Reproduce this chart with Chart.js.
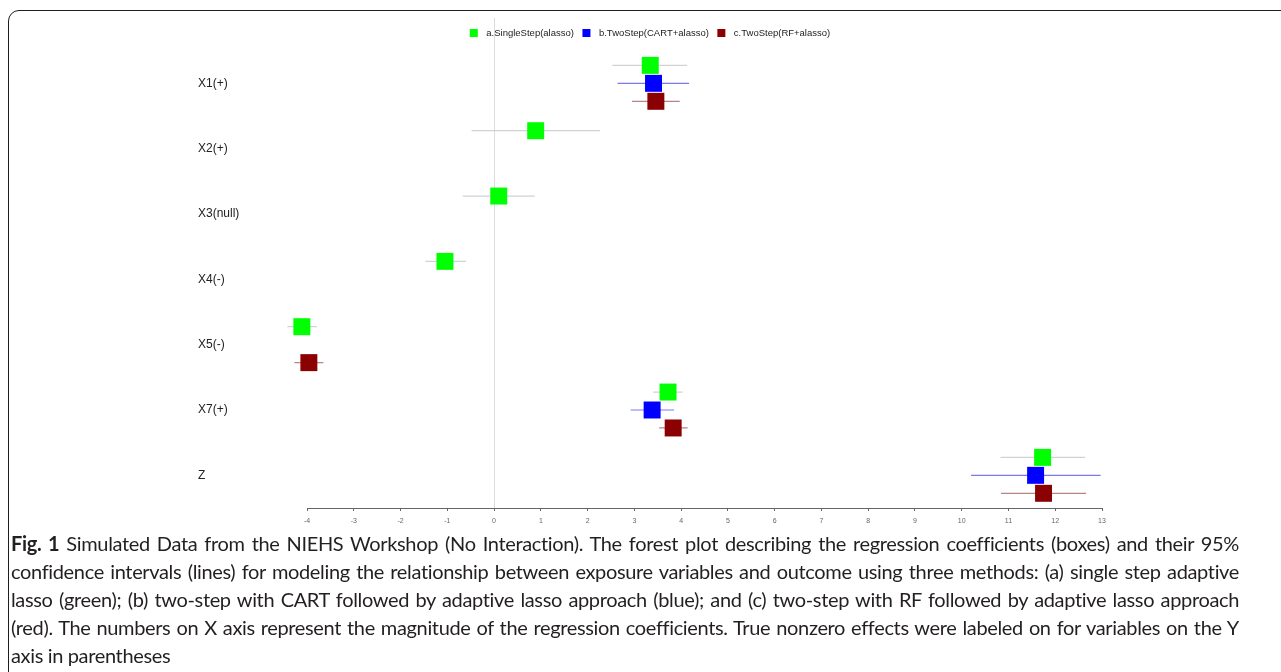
<!DOCTYPE html>
<html>
<head>
<meta charset="utf-8">
<script src="https://cdn.jsdelivr.net/npm/chart.js@4/dist/chart.umd.min.js"></script>
<style>
  html, body { margin: 0; padding: 0; background: #fff; overflow: hidden; }
  body { width: 1281px; height: 672px; position: relative; }
  #frame {
    position: absolute; left: 8px; top: 10px; width: 1320px; height: 720px;
    border: 1.6px solid #1e1e1e; border-radius: 11px; box-sizing: border-box;
  }
  #wrap { position: absolute; left: 0; top: 0; width: 1281px; height: 530px; }
  #caption {
    position: absolute; left: 11px; top: 529px; width: 1228px;
    font-family: Lato, "Open Sans", sans-serif; font-size: 20px; letter-spacing: -0.35px;
    line-height: 28px; color: #231f20;
  }
  #caption div { white-space: nowrap; text-align: justify; text-align-last: justify; }
  #caption div.last { text-align-last: left; }
  #caption b { font-weight: 700; }
</style>
</head>
<body>
<div id="frame"></div>
<div id="wrap"><canvas id="chart" width="1281" height="530"></canvas></div>
<div id="caption">
  <div><b>Fig. 1</b> Simulated Data from the NIEHS Workshop (No Interaction). The forest plot describing the regression coefficients (boxes) and their 95%</div>
  <div>confidence intervals (lines) for modeling the relationship between exposure variables and outcome using three methods: (a) single step adaptive</div>
  <div>lasso (green); (b) two-step with CART followed by adaptive lasso approach (blue); and (c) two-step with RF followed by adaptive lasso approach</div>
  <div>(red). The numbers on X axis represent the magnitude of the regression coefficients. True nonzero effects were labeled on for variables on the Y</div>
  <div class="last">axis in parentheses</div>
</div>
<script>
// Variables (rows of the forest plot, top to bottom)
const rows = ['X1(+)', 'X2(+)', 'X3(null)', 'X4(-)', 'X5(-)', 'X7(+)', 'Z'];

// Method labels
const methods = ['a.SingleStep(alasso)', 'b.TwoStep(CART+alasso)', 'c.TwoStep(RF+alasso)'];

// a. single step adaptive lasso: estimate and 95% CI
const singleEst = [3.34, 0.89, 0.10, -1.05, -4.11, 3.72, 11.73];
const singleLo  = [2.53, -0.48, -0.67, -1.47, -4.42, 3.40, 10.83];
const singleHi  = [4.13, 2.27, 0.87, -0.60, -3.79, 4.03, 12.64];

// b. two-step CART + adaptive lasso (null = variable not selected)
const cartEst = [3.41, null, null, null, null, 3.38, 11.58];
const cartLo  = [2.64, null, null, null, null, 2.92, 10.20];
const cartHi  = [4.17, null, null, null, null, 3.85, 12.97];

// c. two-step RF + adaptive lasso
const rfEst = [3.46, null, null, null, -3.96, 3.83, 11.75];
const rfLo  = [2.95, null, null, null, -4.27, 3.53, 10.84];
const rfHi  = [3.97, null, null, null, -3.65, 4.14, 12.66];

// x-axis ticks (coefficient magnitude)
const xTicks = [-4, -3, -2, -1, 0, 1, 2, 3, 4, 5, 6, 7, 8, 9, 10, 11, 12, 13];

const boxColors = ['#00ff00', '#0000ff', '#8b0000'];
const ciColors  = ['#d2d2d2', '#7a7aee', '#b98383'];
const rowOffset = [-0.275, 0, 0.275];

const series = [
  { est: singleEst, lo: singleLo, hi: singleHi },
  { est: cartEst,   lo: cartLo,   hi: cartHi },
  { est: rfEst,     lo: rfLo,     hi: rfHi }
];

function pointData(s, off) {
  const out = [];
  s.est.forEach((v, i) => { if (v !== null) out.push({ x: v, y: i + off }); });
  return out;
}
function ciData(s, off) {
  const out = [];
  s.lo.forEach((v, i) => {
    if (v !== null) {
      out.push({ x: v, y: i + off });
      out.push({ x: s.hi[i], y: i + off });
      out.push({ x: s.hi[i], y: NaN });
    }
  });
  return out;
}

const datasets = [];
series.forEach((s, k) => {
  datasets.push({
    type: 'line', label: methods[k] + ' CI', data: ciData(s, rowOffset[k]),
    borderColor: ciColors[k], borderWidth: 1.2, pointRadius: 0, spanGaps: false,
    fill: false, order: 2, clip: false
  });
  datasets.push({
    type: 'scatter', label: methods[k], data: pointData(s, rowOffset[k]),
    pointStyle: 'rect', pointRadius: 12, pointHoverRadius: 12,
    backgroundColor: boxColors[k], borderColor: boxColors[k], borderWidth: 0,
    order: 1, clip: false
  });
});

// Legend row drawn across the top of the plot
const topLegend = {
  id: 'topLegend',
  afterDraw(chart) {
    const ctx = chart.ctx;
    ctx.save();
    ctx.font = '9.5px "Liberation Sans", Arial, sans-serif';
    ctx.textBaseline = 'middle';
    ctx.textAlign = 'left';
    const box = 8, gapText = 8.5, gapItem = 8.5;
    const widths = methods.map(m => box + gapText + ctx.measureText(m).width);
    const total = widths.reduce((a, b) => a + b, 0) + gapItem * (methods.length - 1);
    let x = 650 - total / 2;
    const y = 33;
    methods.forEach((m, k) => {
      ctx.fillStyle = boxColors[k];
      ctx.fillRect(x, y - box / 2, box, box);
      ctx.fillStyle = '#222';
      ctx.fillText(m, x + box + gapText, y + 0.5);
      x += widths[k] + gapItem;
    });
    ctx.restore();
  }
};

new Chart(document.getElementById('chart'), {
  type: 'scatter',
  data: { datasets },
  plugins: [topLegend],
  options: {
    responsive: false,
    animation: false,
    events: [],
    layout: { padding: { top: 18, left: 198, right: 179, bottom: 0 } },
    plugins: { legend: { display: false }, tooltip: { enabled: false } },
    scales: {
      x: {
        type: 'linear', min: xTicks[0], max: xTicks[xTicks.length - 1],
        afterBuildTicks: scale => { scale.ticks = xTicks.map(v => ({ value: v })); },
        afterFit: scale => { scale.height = 22; },
        ticks: {
          font: { family: '"Liberation Sans", Arial, sans-serif', size: 7 },
          color: '#666', padding: 6, maxRotation: 0, autoSkip: false,
          callback: v => String(v)
        },
        grid: {
          drawOnChartArea: true, drawTicks: true, tickLength: 3,
          color: c => (c.tick && c.tick.value === 0) ? '#dcdcdc' : 'rgba(0,0,0,0)',
          tickColor: '#666', lineWidth: 1
        },
        border: { display: true, color: '#666', width: 1 }
      },
      y: {
        type: 'linear', reverse: true, min: -1, max: 6.5,
        afterBuildTicks: scale => { scale.ticks = rows.map((r, i) => ({ value: i })); },
        afterFit: scale => { scale.width = 109; },
        ticks: {
          font: { family: '"Liberation Sans", Arial, sans-serif', size: 12 },
          color: '#222', crossAlign: 'far', padding: 0, autoSkip: false,
          callback: v => rows[v]
        },
        grid: { display: false },
        border: { display: false }
      }
    }
  }
});
</script>
</body>
</html>
